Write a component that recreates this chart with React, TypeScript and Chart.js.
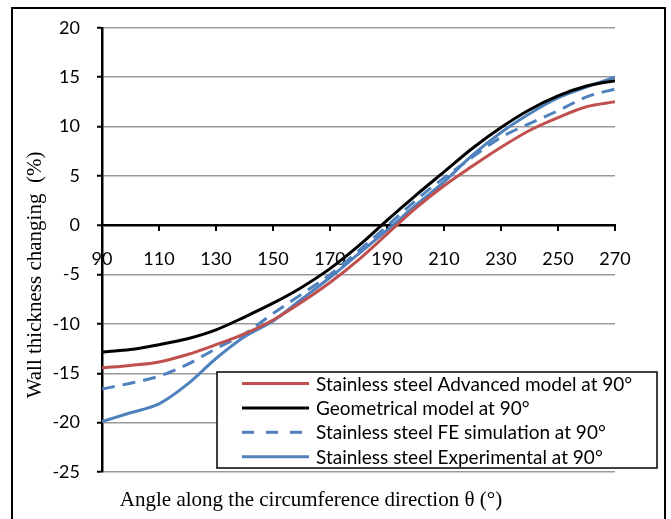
import React, { useEffect, useRef } from "react";
import { Chart, registerables } from "chart.js";

Chart.register(...registerables);

const angles = [90, 100, 110, 120, 130, 140, 150, 160, 170, 180, 190, 200, 210, 220, 230, 240, 250, 260, 270];
const advancedModel = [-14.45, -14.2, -13.85, -13.1, -12.1, -11.0, -9.6, -7.8, -5.8, -3.5, -0.9, 1.7, 4.0, 6.0, 7.9, 9.6, 10.9, 12.0, 12.5];
const geometricalModel = [-12.85, -12.6, -12.1, -11.5, -10.6, -9.3, -7.9, -6.3, -4.4, -2.1, 0.5, 3.0, 5.4, 7.8, 9.9, 11.7, 13.1, 14.1, 14.65];
const feSimulation = [-16.6, -16.0, -15.3, -14.1, -12.5, -11.0, -8.95, -7.0, -5.0, -2.6, -0.1, 2.5, 4.8, 6.9, 8.9, 10.3, 11.6, 13.0, 13.8];
const experimental = [-19.9, -19.0, -18.1, -16.1, -13.5, -11.3, -9.7, -7.5, -5.3, -2.9, -0.5, 2.0, 4.4, 7.1, 9.4, 11.3, 12.9, 14.0, 15.0];

const seriesLabels = [
  "Stainless steel Advanced model at 90°",
  "Geometrical model at 90°",
  "Stainless steel FE simulation at 90°",
  "Stainless steel Experimental at 90°",
];
const yTitle = "Wall thickness changing  (%)";
const xTitle = "Angle along the circumference direction θ (°)";

const SANS = "Lato";
const SERIF = "'Liberation Serif', 'Times New Roman', serif";

const framePlugin = {
  id: "frameAndTitles",
  beforeDraw(chart: any) {
    const ctx = chart.ctx;
    ctx.save();
    ctx.fillStyle = "#fff";
    ctx.fillRect(0, 0, chart.width, chart.height);
    ctx.strokeStyle = "#000";
    ctx.lineWidth = 2;
    ctx.strokeRect(12, 8, 653, 530);
    ctx.restore();
  },
  afterDraw(chart: any) {
    const ctx = chart.ctx;
    ctx.save();
    ctx.fillStyle = "#000";
    ctx.font = `21px ${SERIF}`;
    ctx.textAlign = "center";
    ctx.textBaseline = "alphabetic";
    ctx.fillText(xTitle, 311, 506);
    ctx.translate(41, 275);
    ctx.rotate(-Math.PI / 2);
    ctx.fillText(yTitle, 0, 0);
    ctx.restore();

    // legend box
    ctx.save();
    const x0 = 217, y0 = 372, w = 440, h = 96;
    ctx.fillStyle = "#fff";
    ctx.fillRect(x0, y0, w, h);
    ctx.strokeStyle = "#000";
    ctx.lineWidth = 1.5;
    ctx.strokeRect(x0, y0, w, h);
    chart.data.datasets.forEach((ds: any, i: number) => {
      const y = 383.5 + i * 24.4;
      ctx.strokeStyle = ds.borderColor;
      ctx.lineWidth = 3;
      ctx.setLineDash(ds.borderDash ? [12, 12] : []);
      ctx.beginPath();
      ctx.moveTo(242, y);
      ctx.lineTo(309, y);
      ctx.stroke();
      ctx.setLineDash([]);
      ctx.fillStyle = "#000";
      ctx.font = `19px ${SANS}`;
      ctx.textAlign = "left";
      ctx.textBaseline = "middle";
      ctx.fillText(ds.label, 316, y + 1);
    });
    ctx.restore();
  },
};

export default function App() {
  const ref = useRef<HTMLCanvasElement>(null);
  useEffect(() => {
    if (!ref.current) return;
    const mk = (ys: number[]) => angles.map((a, i) => ({ x: a, y: ys[i] }));
    const common = { borderWidth: 3, pointRadius: 0, cubicInterpolationMode: "monotone" as const, fill: false };
    const chart = new Chart(ref.current, {
      type: "line",
      data: {
        datasets: [
          { label: seriesLabels[0], data: mk(advancedModel), borderColor: "#C0504D", ...common },
          { label: seriesLabels[1], data: mk(geometricalModel), borderColor: "#000000", ...common },
          { label: seriesLabels[2], data: mk(feSimulation), borderColor: "#4F81BD", borderDash: [13, 8], ...common },
          { label: seriesLabels[3], data: mk(experimental), borderColor: "#4F81BD", ...common },
        ],
      },
      options: {
        responsive: false,
        animation: false,
        layout: { padding: { left: 0, right: 56, top: 25, bottom: 47 } },
        plugins: { legend: { display: false }, tooltip: { enabled: false }, title: { display: false } },
        scales: {
          x: {
            type: "linear",
            position: { y: 0 } as any,
            min: 90,
            max: 270,
            ticks: { stepSize: 20, autoSkip: false, color: "#000", font: { family: SANS, size: 18 }, padding: 18, maxRotation: 0 },
            grid: { drawOnChartArea: false, drawTicks: true, tickLength: 5, color: "#000", lineWidth: 2 },
            border: { display: true, color: "#000", width: 2 },
          },
          y: {
            min: -25,
            max: 20,
            afterFit: (s: any) => { s.width = 102; },
            ticks: { stepSize: 5, color: "#000", font: { family: SANS, size: 18 }, padding: 17 },
            grid: {
              color: (c: any) => (c.tick && c.tick.value === 0 ? "#000" : "#999"),
              lineWidth: (c: any) => (c.tick && c.tick.value === 0 ? 2.5 : 1.5),
              tickColor: "#000",
              tickLength: 5,
              tickWidth: 2,
            },
            border: { display: true, color: "#000", width: 2.5 },
          },
        },
      },
      plugins: [framePlugin],
    });
    return () => chart.destroy();
  }, []);
  return (
    <canvas
      ref={ref}
      width={671}
      height={519}
      style={{ position: "absolute", left: 0, top: 0, display: "block" }}
    />
  );
}
